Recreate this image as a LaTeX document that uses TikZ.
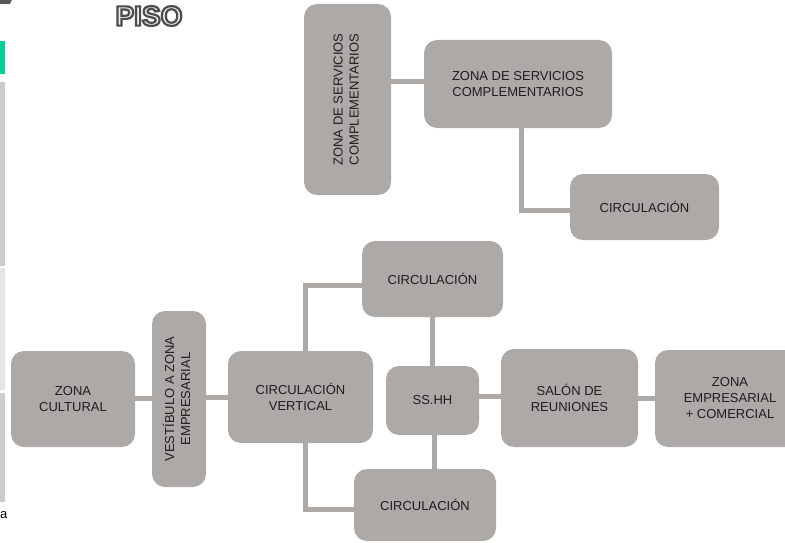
\documentclass[tikz,border=0pt]{standalone}
\usepackage{fontspec}
\setmainfont{Liberation Sans}
\usetikzlibrary{backgrounds,calc}
\definecolor{boxgray}{HTML}{ADA9A7}
\definecolor{txt}{HTML}{1E1E1E}
\definecolor{mint}{HTML}{00CF96}
\definecolor{barA}{HTML}{CCCCCC}
\definecolor{barB}{HTML}{E6E6E6}
\tikzset{
  zone/.style={fill=boxgray, rounded corners=13pt, inner sep=0pt, align=center,
    text=txt, font=\fontsize{13}{16}\selectfont},
  link/.style={draw=boxgray, line width=5pt, line join=miter},
}
\newcommand{\vtext}[2]{\rotatebox{90}{\begin{tabular}{@{}c@{}}#1\\#2\end{tabular}}}
\newcommand{\outlinetext}[1]{\special{pdf:literal direct 2 Tr 2.2 w 0.3 G 0.93 g}#1\special{pdf:literal direct 0 Tr 0 w 0 G 0 g}}
\begin{document}
\begin{tikzpicture}[x=1pt,y=-1pt]
\path[use as bounding box, clip] (0,0) rectangle (785,543);

% left edge fragments of the slide
\fill[gray!70!black] (0,0) -- (12,0) -- (10,4) -- (0,4) -- cycle;
\fill[mint] (0,41) rectangle (5,74);
\fill[barA] (0,82) rectangle (5,266);
\fill[barB] (0,268) rectangle (5,390);
\fill[barA] (0,393) rectangle (5,502);
\node[font=\fontsize{13}{16}\selectfont, inner sep=0pt, anchor=base west] (la) at (0,518) {a};

% title
\node[font=\fontsize{28}{30}\selectfont\bfseries, inner sep=0pt] (title) at (149,16) {\outlinetext{PISO}};

% zones
\node[zone, minimum width=87pt, minimum height=191pt] (zscv) at (347.5,99.5)
  {\vtext{ZONA DE SERVICIOS}{COMPLEMENTARIOS}};
\node[zone, minimum width=188pt, minimum height=88pt] (zsc) at (518,84)
  {ZONA DE SERVICIOS\\COMPLEMENTARIOS};
\node[zone, minimum width=149pt, minimum height=66pt] (c3) at (644.5,207) {CIRCULACIÓN};

\node[zone, minimum width=124pt, minimum height=96pt] (zc) at (73,399) {ZONA\\CULTURAL};
\node[zone, minimum width=54pt, minimum height=176pt] (vest) at (179,399)
  {\vtext{VESTÍBULO A ZONA}{EMPRESARIAL}};
\node[zone, minimum width=145pt, minimum height=92pt] (cv) at (300.5,397) {CIRCULACIÓN\\VERTICAL};
\node[zone, minimum width=141pt, minimum height=76pt] (c1) at (432.5,279) {CIRCULACIÓN};
\node[zone, minimum width=93pt, minimum height=69pt] (ss) at (432.5,400.5) {SS.HH};
\node[zone, minimum width=142pt, minimum height=72pt] (c2) at (425,505) {CIRCULACIÓN};
\node[zone, minimum width=137pt, minimum height=98pt] (sal) at (569.5,398) {SALÓN DE\\REUNIONES};
\node[zone, minimum width=150pt, minimum height=97pt] (ze) at (730,398.5) {ZONA\\EMPRESARIAL\\+ COMERCIAL};

% connectors
\begin{scope}[on background layer]
\draw[link] ([yshift=2pt]zsc.west) -- ([yshift=2pt]zsc.west -| zscv.east);
\draw[link] ([xshift=3pt]zsc.south) |- ([yshift=-3pt]c3.west);
\draw[link] ([yshift=1pt]zc.east) -- ([yshift=1pt]zc.east -| vest.west);
\draw[link] (cv.west) -- (cv.west -| vest.east);
\draw[link] ([xshift=4.5pt]cv.north) |- ([yshift=-6.5pt]c1.west);
\draw[link] ([xshift=4.5pt]cv.south) |- ([yshift=-4pt]c2.west);
\draw[link] (c1.south) -- (ss.north);
\draw[link] ([xshift=1.5pt]ss.south) -- ([xshift=1.5pt]ss.south |- c2.north);
\draw[link] ([yshift=4pt]ss.east) -- ([yshift=4pt]ss.east -| sal.west);
\draw[link] (sal.east) -- (sal.east -| ze.west);
\end{scope}
\end{tikzpicture}
\end{document}
